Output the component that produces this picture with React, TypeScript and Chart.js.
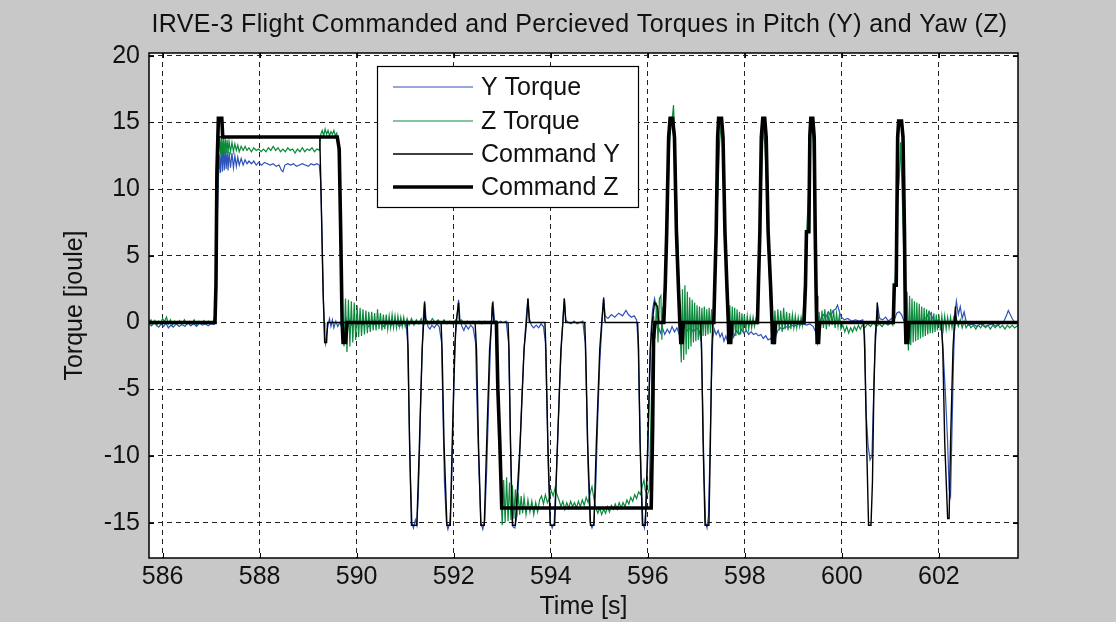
import React, { useEffect, useRef } from "react";
import { Chart, registerables } from "chart.js";

Chart.register(...registerables);

const FONT = '"Liberation Sans", Arial, Helvetica, sans-serif';
const TITLE = "IRVE-3 Flight Commanded and Percieved Torques in Pitch (Y) and Yaw (Z)";
const X_LABEL = "Time [s]";
const Y_LABEL = "Torque [joule]";
const xTickValues = [586, 588, 590, 592, 594, 596, 598, 600, 602];
const yTickValues = [-15, -10, -5, 0, 5, 10, 15, 20];
const xRange = [585.72, 603.63];
const yRange = [-17.65, 20.2];
const seriesNames = ["Y Torque", "Z Torque", "Command Y", "Command Z"];

// Y torque (perceived, pitch)
const yTorque: [number, number][] = [
  [585.72,-0.1],[585.77,-0.25],[585.82,0.05],[585.87,-0.2],[585.92,-0.35],[585.97,-0.1],[586.02,-0.3],[586.07,-0.05],[586.12,-0.4],[586.17,-0.2],[586.22,-0.35],[586.28,-0.1],[586.34,-0.3],[586.40,-0.15],[586.46,-0.3],[586.52,0.0],[586.58,-0.25],[586.64,-0.1],[586.70,-0.3],[586.76,-0.05],[586.82,-0.2],[586.88,-0.1],[586.94,-0.25],[587.00,-0.1],[587.06,-0.15],
  [587.09,0.3],[587.11,3.5],[587.13,8.2],[587.15,10.8],[587.17,12.6],[587.19,11.2],[587.21,13.3],[587.23,11.3],[587.25,13.2],[587.27,11.4],[587.29,13.0],[587.31,11.5],[587.33,12.9],[587.35,11.4],[587.37,12.8],[587.40,11.6],[587.43,12.7],[587.46,11.6],[587.49,12.5],[587.52,11.7],[587.55,12.4],[587.58,11.8],[587.62,12.3],[587.66,11.8],[587.70,12.2],[587.74,11.9],[587.78,12.1],[587.83,11.9],[587.88,12.1],[587.93,11.8],[587.98,12.0],[588.04,11.8],[588.10,12.0],[588.16,11.9],[588.22,11.8],[588.28,11.9],[588.34,11.7],[588.40,11.8],[588.45,11.4],[588.48,11.3],[588.52,11.8],[588.58,11.9],[588.64,11.8],[588.70,11.9],[588.76,11.7],[588.82,11.8],[588.88,11.9],[588.94,11.8],[589.00,11.7],[589.06,11.9],[589.12,11.8],[589.18,11.9],[589.23,11.8],
  [589.26,10.5],[589.28,7.5],[589.30,4],[589.32,1],[589.34,-1.2],[589.36,-1.6],[589.38,-0.9],[589.41,-0.2],[589.44,0.3],[589.47,-0.3],[589.50,0.2],[589.53,-0.4],[589.57,0.1],[589.61,-0.3],[589.65,0.0],[589.69,-0.3],[589.72,-1.2],[589.75,-0.2],[589.78,0.3],[589.82,-0.3],[589.86,0.2],[589.90,-0.2],[589.95,0.1],[590.00,-0.2],[590.06,0.1],[590.12,-0.2],[590.18,0.0],[590.25,-0.3],[590.32,0.0],[590.40,-0.2],[590.48,0.1],[590.56,-0.3],[590.64,0.0],[590.72,-0.2],[590.80,0.1],[590.88,-0.3],[590.96,0.0],[591.02,-0.1],
  [591.05,-1.5],[591.08,-7],[591.11,-12],[591.14,-15.0],[591.17,-15.4],[591.21,-14.8],[591.24,-15.2],[591.27,-13],[591.30,-9],[591.33,-4.5],[591.36,-1],[591.38,0.8],[591.40,1.6],[591.43,0.3],[591.47,-0.3],[591.51,-0.5],[591.55,-0.2],[591.60,-0.4],[591.65,-0.1],[591.70,-0.3],
  [591.75,-1.5],[591.78,-7],[591.81,-12],[591.85,-15.0],[591.88,-15.5],[591.92,-15.0],[591.95,-13],[591.98,-8.5],[592.01,-4],[592.04,-0.8],[592.07,0.5],[592.10,1.7],[592.13,0.2],[592.17,-0.3],[592.21,-0.6],[592.25,-0.2],[592.30,-0.5],[592.35,-0.2],[592.40,-0.4],
  [592.45,-1.5],[592.48,-6],[592.52,-11],[592.56,-15.0],[592.60,-15.5],[592.64,-14.8],[592.68,-11],[592.72,-6],[592.76,-1.5],[592.79,1.0],[592.81,1.6],[592.84,0.2],[592.90,-0.1],[592.96,0.1],[593.02,0.0],[593.08,0.1],
  [593.13,-1.5],[593.16,-7],[593.19,-12.5],[593.22,-15.3],[593.26,-15.4],[593.30,-14.5],[593.35,-11],[593.40,-6],[593.45,-2],[593.49,0.2],[593.53,1.8],[593.56,0.3],[593.60,-0.2],[593.65,-0.4],[593.70,-0.2],[593.75,-0.4],[593.80,-0.1],[593.85,-0.3],
  [593.89,-1.5],[593.92,-6],[593.95,-11],[593.99,-15.0],[594.03,-15.4],[594.07,-15.0],[594.11,-12],[594.15,-8],[594.19,-4],[594.23,-1],[594.26,0.8],[594.28,1.8],[594.31,0.2],[594.36,0.0],[594.42,-0.1],[594.48,0.1],[594.54,-0.1],[594.60,0.0],[594.66,0.1],
  [594.71,-1.5],[594.74,-6],[594.77,-11],[594.81,-15.0],[594.85,-15.4],[594.89,-15.0],[594.93,-12],[594.97,-7],[595.01,-3],[595.05,-0.5],[595.07,0.8],[595.09,1.9],[595.12,0.5],[595.18,0.3],[595.25,0.6],[595.32,0.4],[595.40,0.7],[595.48,0.5],[595.55,0.9],[595.60,0.6],[595.66,0.4],[595.72,0.5],[595.77,0.2],
  [595.80,-1.5],[595.83,-6.5],[595.86,-11.5],[595.90,-15.0],[595.93,-15.4],[595.96,-14],[596.00,-10],[596.04,-4],[596.07,-0.5],[596.10,1.0],[596.14,1.8],[596.18,1.0],[596.22,-0.3],[596.26,-0.8],[596.30,-0.4],[596.35,-0.9],[596.40,-0.5],[596.45,-0.8],[596.50,-0.3],[596.55,-0.7],[596.60,-0.4],[596.65,-0.9],[596.70,-0.5],[596.76,-0.3],[596.82,-0.6],[596.88,-0.4],[596.94,-0.7],[597.00,-0.4],[597.06,-0.6],
  [597.10,-1.5],[597.13,-6],[597.16,-11.5],[597.19,-15.0],[597.22,-15.4],[597.25,-14.5],[597.28,-10],[597.31,-4.5],[597.34,-1.2],[597.37,-0.5],[597.41,-0.9],[597.45,-0.6],[597.49,-1.1],[597.53,-0.8],[597.57,-1.4],[597.61,-1.0],[597.65,-1.5],[597.69,-1.2],[597.73,-0.8],[597.78,-1.0],[597.83,-0.6],[597.88,-0.9],[597.93,-0.5],[597.98,-0.8],[598.03,-0.6],[598.08,-0.9],[598.13,-0.7],[598.18,-0.9],[598.23,-0.8],[598.28,-1.0],[598.33,-0.9],[598.38,-1.2],[598.43,-1.0],[598.48,-1.3],[598.53,-1.2],[598.57,-1.5],[598.60,-1.6],[598.64,-1.0],[598.68,-0.6],[598.73,-0.4],[598.78,-0.5],[598.84,-0.3],[598.90,-0.4],[598.96,-0.2],[599.02,-0.3],[599.08,-0.1],[599.14,-0.2],[599.20,-0.1],[599.27,-0.2],[599.34,-0.1],[599.41,-0.3],[599.47,-0.8],[599.50,-1.5],[599.53,-0.4],[599.57,0.3],[599.62,0.6],[599.67,0.4],[599.72,0.8],[599.77,0.5],[599.82,0.9],[599.87,1.0],[599.91,1.3],[599.95,0.8],[599.99,0.4],[600.05,0.2],[600.12,0.3],[600.20,0.1],[600.28,0.2],[600.36,0.1],[600.43,0.2],
  [600.47,-1],[600.50,-6.8],[600.54,-9.2],[600.58,-10.3],[600.62,-10.0],[600.65,-6],[600.68,-2.2],[600.71,-0.5],[600.74,1.2],[600.78,0.3],[600.84,0.2],[600.90,0.4],[600.96,0.1],[601.02,0.3],[601.08,0.2],[601.13,0.7],[601.18,0.8],[601.23,0.6],[601.28,0.1],[601.34,-0.1],[601.40,0.1],[601.47,0.0],[601.54,0.2],[601.61,0.0],[601.68,0.2],[601.75,0.4],[601.80,0.8],[601.85,0.5],[601.90,0.1],[601.96,0.2],[602.02,0.0],
  [602.06,-0.5],[602.10,-3],[602.14,-5.8],[602.18,-9],[602.21,-12.5],[602.24,-13.0],[602.27,-8],[602.30,-3],[602.33,0.5],[602.36,1.6],[602.40,0.6],[602.44,1.2],[602.48,0.3],[602.52,0.8],[602.56,0.1],[602.62,-0.2],[602.70,-0.1],[602.78,-0.3],[602.86,-0.1],[602.94,-0.3],[603.02,-0.2],[603.10,-0.1],[603.18,-0.3],[603.26,-0.1],[603.34,0.1],[603.39,0.5],[603.43,0.9],[603.47,0.6],[603.51,0.3],[603.56,0.0],[603.63,-0.1],
];

// Z torque (perceived, yaw)
const zTorque: [number, number][] = [
  [585.72,0.05],[585.76,0.2],[585.80,-0.15],[585.84,0.15],[585.88,-0.2],[585.92,0.1],[585.96,-0.1],[586.00,0.3],[586.04,0.05],[586.08,0.4],[586.12,-0.1],[586.16,0.2],[586.20,-0.2],[586.25,0.1],[586.30,-0.15],[586.35,0.15],[586.40,-0.1],[586.45,0.2],[586.50,-0.15],[586.55,0.1],[586.60,-0.1],[586.65,0.2],[586.70,-0.2],[586.75,0.1],[586.80,-0.1],[586.85,0.15],[586.90,-0.15],[586.95,0.1],[587.00,-0.05],[587.05,0.1],
  [587.09,0.8],[587.11,5],[587.13,9.5],[587.15,12.5],[587.17,13.9],[587.19,12.6],[587.21,14.0],[587.23,12.5],[587.25,13.9],[587.27,12.6],[587.29,13.8],[587.31,12.7],[587.33,13.7],[587.35,12.7],[587.37,13.6],[587.40,12.8],[587.43,13.5],[587.46,12.8],[587.49,13.4],[587.52,12.9],[587.55,13.3],[587.58,12.8],[587.62,13.2],[587.66,12.9],[587.70,13.2],[587.74,12.9],[587.78,13.1],[587.83,12.8],[587.88,13.1],[587.93,12.9],[587.98,13.0],[588.03,12.8],[588.08,13.0],[588.13,12.8],[588.18,13.1],[588.23,12.9],[588.28,13.2],[588.33,12.9],[588.38,13.1],[588.43,12.8],[588.48,13.0],[588.53,12.8],[588.58,13.1],[588.63,12.9],[588.68,13.0],[588.73,12.7],[588.78,13.0],[588.83,12.8],[588.88,13.1],[588.93,12.8],[588.98,13.0],[589.03,12.9],[589.08,13.1],[589.13,12.8],[589.18,13.0],[589.23,12.9],
  [589.26,14.1],[589.29,14.4],[589.32,14.0],[589.35,14.5],[589.38,14.1],[589.41,14.4],[589.44,14.0],[589.47,14.3],[589.50,14.1],[589.53,14.4],[589.56,14.0],[589.59,14.2],[589.62,13.4],[589.65,10],[589.67,6],[589.69,2],[589.71,-0.5],
  [589.74,-1.8],[589.77,1.8],[589.80,-2.2],[589.83,1.7],[589.86,-1.8],[589.89,1.6],[589.92,-1.5],[589.95,1.5],[589.98,-1.3],[590.01,1.3],[590.04,-1.1],[590.07,1.1],[590.10,-1.0],[590.13,1.0],[590.16,-0.9],[590.19,0.9],[590.22,-0.8],[590.25,0.8],[590.28,-0.7],[590.31,0.8],[590.34,-0.6],[590.37,0.7],[590.40,-0.6],[590.43,1.0],[590.46,-0.5],[590.49,0.7],[590.52,-0.6],[590.55,0.6],[590.58,-0.5],[590.61,0.6],[590.64,-0.5],[590.67,0.5],[590.70,-0.4],[590.73,0.6],[590.76,-0.4],[590.79,0.5],[590.82,-0.4],[590.85,0.5],[590.88,-0.3],[590.91,0.4],[590.94,-0.3],[590.97,0.4],[591.00,-0.3],[591.04,0.3],[591.08,-0.2],
  [591.13,0.3],[591.18,-0.2],[591.23,0.2],[591.28,-0.1],[591.33,0.3],[591.38,-0.2],[591.44,0.2],[591.50,-0.1],[591.56,0.3],[591.62,0.0],[591.68,0.2],[591.74,-0.1],[591.80,0.2],[591.86,-0.1],[591.92,0.1],[591.98,-0.1],[592.04,0.2],[592.10,0.0],[592.16,0.2],[592.22,-0.1],[592.28,0.1],[592.34,-0.1],[592.40,0.1],[592.46,0.0],[592.52,0.1],[592.58,-0.1],[592.64,0.1],[592.70,0.0],[592.76,0.1],[592.82,0.0],[592.88,0.1],
  [592.91,-3],[592.94,-8],[592.97,-12.5],
  [593.00,-15.2],[593.03,-11.8],[593.06,-15.0],[593.09,-11.6],[593.12,-14.9],[593.15,-12.0],[593.18,-14.8],[593.21,-12.2],[593.24,-14.7],[593.27,-12.5],[593.30,-14.5],[593.33,-12.8],[593.36,-14.4],[593.39,-13.0],[593.42,-14.3],[593.45,-13.1],[593.49,-14.4],[593.53,-13.3],[593.57,-14.2],[593.61,-13.4],[593.65,-14.4],[593.69,-13.5],[593.73,-14.2],[593.77,-13.3],[593.81,-13.0],[593.85,-13.6],[593.89,-12.9],[593.93,-13.5],[593.97,-13.2],[594.01,-12.6],[594.05,-13.0],[594.09,-12.4],[594.13,-12.9],[594.17,-13.3],[594.21,-13.8],[594.25,-13.4],[594.29,-14.0],[594.33,-13.5],[594.37,-13.9],[594.41,-13.4],[594.45,-13.8],[594.49,-13.5],[594.53,-13.9],[594.57,-13.4],[594.61,-13.8],[594.65,-13.3],[594.69,-13.7],[594.73,-13.1],[594.77,-13.5],[594.81,-12.8],[594.85,-12.3],[594.89,-13.2],[594.93,-13.9],[594.97,-14.3],[595.01,-13.9],[595.05,-14.4],[595.09,-14.0],[595.13,-14.3],[595.17,-13.8],[595.21,-14.2],[595.25,-13.7],[595.29,-14.0],[595.33,-13.6],[595.37,-14.0],[595.41,-13.5],[595.45,-13.9],[595.49,-13.5],[595.53,-13.8],[595.57,-13.3],[595.61,-13.6],[595.65,-13.1],[595.69,-13.4],[595.73,-12.9],[595.77,-13.2],[595.81,-12.7],[595.85,-12.9],[595.89,-12.2],[595.92,-11.8],[595.95,-12.6],[595.99,-12.9],[596.03,-12.5],
  [596.06,-8],[596.09,-3],[596.12,0.5],
  [596.15,-1.2],[596.18,1.5],[596.21,-1.5],[596.24,1.8],[596.27,2.0],[596.29,-1.3],[596.31,1.2],[596.33,0.0],
  [596.36,2.0],[596.39,5.5],[596.42,10],[596.45,13.5],[596.48,14.8],[596.51,15.5],[596.53,16.3],[596.55,14.5],[596.58,11],[596.61,7],[596.64,3],[596.67,-1],
  [596.69,-3.0],[596.715,2.5],[596.74,-2.8],[596.765,2.8],[596.79,-2.4],[596.815,2.3],[596.84,-2.0],[596.865,1.9],[596.89,-1.8],[596.915,1.7],[596.94,-1.5],[596.965,1.5],[596.99,-1.4],[597.015,1.3],[597.04,-1.3],[597.065,1.2],[597.09,-1.1],[597.115,1.1],[597.14,-1.0],[597.165,1.2],[597.19,-1.0],[597.215,1.0],[597.24,-0.9],[597.265,1.1],[597.29,-0.8],[597.315,1.0],[597.34,-0.8],[597.36,0.5],
  [597.39,3],[597.42,7.5],[597.45,10.3],[597.48,13.5],[597.51,14.8],[597.54,13.5],[597.57,9],[597.60,5],[597.63,1.5],[597.66,-1.2],
  [597.69,1.3],[597.715,-1.3],[597.74,1.2],[597.765,-1.2],[597.79,1.1],[597.815,-1.0],[597.84,1.0],[597.865,-0.9],[597.89,0.8],[597.915,-0.9],[597.94,0.7],[597.965,-0.7],[597.99,0.6],[598.02,-0.6],[598.05,0.5],[598.08,-0.5],[598.11,0.4],[598.14,-0.4],[598.17,0.4],[598.20,-0.3],[598.23,0.3],[598.26,0.0],
  [598.29,3],[598.32,8],[598.35,11.5],[598.38,14.5],[598.41,13.5],[598.44,11],[598.47,7],[598.50,4],[598.53,1.5],[598.56,-0.5],
  [598.59,-1.6],[598.62,0.9],[598.65,-0.8],[598.68,1.0],[598.71,-0.6],[598.74,0.9],[598.77,-0.7],[598.80,1.1],[598.83,-0.5],[598.86,0.8],[598.89,-0.6],[598.92,0.7],[598.95,-0.5],[598.98,0.6],[599.01,-0.4],[599.04,0.5],[599.07,-0.4],[599.10,0.4],[599.13,-0.3],[599.16,0.4],[599.19,-0.2],
  [599.23,2.5],[599.27,6.5],[599.31,9.5],[599.35,14.0],[599.38,14.8],[599.41,13.5],[599.44,8],[599.47,2.5],[599.50,-1.4],
  [599.53,0.8],[599.56,-0.5],[599.59,0.9],[599.62,-0.4],[599.65,1.0],[599.68,-0.5],[599.71,0.8],[599.74,-0.3],[599.77,1.0],[599.80,-0.2],[599.83,0.9],[599.86,-0.4],[599.89,0.7],[599.92,-0.3],[599.95,0.6],[599.98,-0.5],[600.02,-0.2],[600.06,-0.7],[600.10,-0.3],[600.14,-0.8],[600.18,-0.4],[600.22,-0.7],[600.26,-0.3],[600.30,-0.6],[600.34,-0.2],[600.38,-0.5],[600.42,-0.2],[600.47,-0.4],[600.53,-0.1],[600.59,-0.3],[600.65,0.0],[600.71,-0.3],[600.77,-0.1],[600.83,-0.3],[600.89,0.0],[600.95,-0.2],[601.01,0.0],[601.05,-0.2],
  [601.09,2.5],[601.12,5],[601.15,9.5],[601.18,10.5],[601.21,13.5],[601.24,10],[601.27,6],[601.30,1],
  [601.32,-1.5],[601.345,2.3],[601.37,-2.1],[601.395,2.0],[601.42,-1.7],[601.445,1.8],[601.47,-1.5],[601.495,1.6],[601.52,-1.4],[601.545,1.5],[601.57,-1.3],[601.595,1.4],[601.62,-1.2],[601.645,1.2],[601.67,-1.1],[601.695,1.1],[601.72,-1.0],[601.745,1.0],[601.77,-0.9],[601.795,0.9],[601.82,-0.8],[601.845,0.8],[601.87,-0.8],[601.895,0.7],[601.92,-0.7],[601.945,0.6],[601.97,-0.6],[602.00,0.6],[602.03,-0.6],[602.06,0.5],[602.09,-0.5],[602.12,0.5],[602.15,-0.5],[602.18,0.4],[602.21,-0.4],[602.24,0.4],[602.27,-0.4],[602.30,0.3],[602.33,-0.4],[602.36,0.3],[602.40,-0.3],[602.44,0.2],[602.48,-0.4],[602.52,0.1],[602.56,-0.4],[602.61,-0.1],[602.66,-0.4],[602.71,-0.2],[602.76,-0.5],[602.81,-0.2],[602.86,-0.4],[602.91,-0.1],[602.96,-0.4],[603.01,-0.2],[603.06,-0.5],[603.11,-0.2],[603.16,-0.4],[603.21,-0.1],[603.26,-0.4],[603.31,-0.2],[603.36,-0.5],[603.41,-0.2],[603.46,-0.4],[603.51,-0.2],[603.56,-0.4],[603.63,-0.2],
];

// Commanded pitch torque
const commandY: [number, number][] = [
  [585.72,0],[587.08,0],[587.10,2.5],[587.13,11.3],[587.16,13.9],[589.24,13.9],[589.27,9],[589.31,2],[589.33,0],[589.34,-1.5],[589.38,-1.5],[589.40,0],
  [591.04,0],[591.06,-2],[591.09,-9],[591.13,-15.2],[591.24,-15.2],[591.29,-9.5],[591.35,-2],[591.38,0],[591.40,1.5],[591.42,0],
  [591.74,0],[591.76,-2],[591.80,-9],[591.86,-15.2],[591.93,-15.2],[591.97,-9],[592.02,-2],[592.05,0],[592.10,1.5],[592.12,0],
  [592.44,0],[592.47,-2],[592.51,-9],[592.56,-15.2],[592.63,-15.2],[592.68,-9],[592.74,-2],[592.78,0],[592.80,1.5],[592.83,0],
  [593.12,0],[593.14,-2],[593.17,-9],[593.21,-15.2],[593.27,-15.2],[593.37,-9],[593.45,-2],[593.50,0],[593.53,1.8],[593.56,0],
  [593.88,0],[593.90,-2],[593.94,-9],[593.99,-15.2],[594.08,-15.2],[594.14,-9],[594.21,-2],[594.25,0],[594.28,1.8],[594.31,0],
  [594.70,0],[594.72,-2],[594.76,-9],[594.82,-15.2],[594.89,-15.2],[594.94,-9],[595.01,-2],[595.05,0],[595.09,1.8],[595.12,0],
  [595.79,0],[595.81,-2],[595.84,-9],[595.89,-15.2],[595.95,-15.2],[596.00,-9],[596.05,-2],[596.09,0],[596.14,1.5],[596.20,1.2],[596.23,0],
  [597.09,0],[597.11,-2],[597.14,-9],[597.18,-15.2],[597.26,-15.2],[597.29,-9],[597.32,-2],[597.34,0],
  [600.45,0],[600.47,-2],[600.51,-9],[600.55,-15.2],[600.60,-15.2],[600.63,-12],[600.66,-5],[600.69,-1],[600.71,0],[600.73,1.5],[600.75,0],
  [602.05,0],[602.08,-2],[602.12,-9],[602.18,-14.7],[602.21,-14.7],[602.24,-9],[602.29,-2],[602.32,0],[602.34,1.2],[602.36,0],[603.63,0],
];

// Commanded yaw torque
const commandZ: [number, number][] = [
  [585.72,0],[587.08,0],[587.10,2.8],[587.12,11.3],[587.15,15.3],[587.22,15.3],[587.24,13.9],[589.60,13.9],[589.64,13.0],[589.67,7.0],[589.70,0],[589.72,-1.5],[589.77,-1.5],[589.80,0],
  [592.88,0],[592.91,-5],[592.95,-9],[592.99,-13.9],[596.07,-13.9],[596.10,-8],[596.12,-1],[596.15,0],
  [596.33,0],[596.36,2.8],[596.39,6.8],[596.43,13.9],[596.46,15.3],[596.51,15.3],[596.55,13.9],[596.59,6.8],[596.63,2.8],[596.66,0],[596.68,-1.5],[596.71,-1.5],[596.73,0],
  [597.36,0],[597.38,2.8],[597.41,6.8],[597.44,13.9],[597.46,15.3],[597.52,15.3],[597.55,13.9],[597.59,6.8],[597.63,2.8],[597.66,0],[597.67,-1.5],[597.71,-1.5],[597.73,0],
  [598.26,0],[598.28,2.8],[598.31,6.8],[598.34,13.9],[598.37,15.3],[598.41,15.3],[598.44,13.9],[598.48,6.8],[598.53,2.8],[598.56,0],[598.57,-1.5],[598.61,-1.5],[598.63,0],
  [599.22,0],[599.25,2.8],[599.27,6.8],[599.32,6.8],[599.34,14],[599.36,15.3],[599.40,15.3],[599.43,13.9],[599.45,6.8],[599.47,2],[599.48,0],[599.49,-1.5],[599.52,-1.5],[599.54,0],
  [601.06,0],[601.08,2.8],[601.12,2.8],[601.15,13.9],[601.17,15.1],[601.23,15.1],[601.26,13.9],[601.29,6.8],[601.31,0],[601.32,-1.5],[601.36,-1.5],[601.38,0],[603.63,0],
];

const seriesData = [yTorque, zTorque, commandY, commandZ];
const seriesColors = ["#2f52b8", "#0c8a3c", "#000000", "#000000"];
const seriesWidths = [1.2, 1.2, 1.4, 3.6];
const seriesOrder = [4, 3, 2, 1];

const LEGEND_BOX = { left: 377.5, top: 66.5, right: 638.5, bottom: 207.5 };
const LEGEND_ROWS = [87, 121, 154, 187];

export default function App() {
  const canvasRef = useRef<HTMLCanvasElement | null>(null);

  useEffect(() => {
    const canvas = canvasRef.current;
    if (!canvas) return;

    const bgPlugin = {
      id: "matlabBackground",
      beforeDraw(chart: any) {
        const { ctx, chartArea } = chart;
        ctx.save();
        ctx.fillStyle = "#c8c8c8";
        ctx.fillRect(0, 0, chart.width, chart.height);
        ctx.fillStyle = "#ffffff";
        ctx.fillRect(chartArea.left, chartArea.top, chartArea.right - chartArea.left, chartArea.bottom - chartArea.top);
        ctx.restore();
      },
    };

    const framePlugin = {
      id: "matlabFrame",
      afterDatasetsDraw(chart: any) {
        const { ctx, chartArea, scales } = chart;
        const { left, right, top, bottom } = chartArea;
        ctx.save();
        ctx.strokeStyle = "#000";
        ctx.lineWidth = 1;
        ctx.beginPath();
        for (const v of xTickValues) {
          const px = Math.round(scales.x.getPixelForValue(v)) + 0.5;
          ctx.moveTo(px, bottom);
          ctx.lineTo(px, bottom - 5);
          ctx.moveTo(px, top);
          ctx.lineTo(px, top + 5);
        }
        for (const v of yTickValues) {
          const py = Math.round(scales.y.getPixelForValue(v)) + 0.5;
          ctx.moveTo(left, py);
          ctx.lineTo(left + 5, py);
          ctx.moveTo(right, py);
          ctx.lineTo(right - 5, py);
        }
        ctx.stroke();
        ctx.lineWidth = 1.5;
        ctx.strokeRect(left, top, right - left, bottom - top);
        ctx.restore();
      },
    };

    const overlayPlugin = {
      id: "matlabOverlay",
      afterDraw(chart: any) {
        const { ctx, chartArea } = chart;
        ctx.save();
        ctx.fillStyle = "#111";
        ctx.font = `25px ${FONT}`;
        ctx.textAlign = "center";
        ctx.textBaseline = "middle";
        (ctx as any).letterSpacing = "0.35px";
        ctx.fillText(TITLE, (chartArea.left + chartArea.right) / 2 - 4, 25);
        (ctx as any).letterSpacing = "0px";

        const b = LEGEND_BOX;
        ctx.fillStyle = "#fff";
        ctx.fillRect(b.left, b.top, b.right - b.left, b.bottom - b.top);
        ctx.strokeStyle = "#000";
        ctx.lineWidth = 1.2;
        ctx.strokeRect(b.left, b.top, b.right - b.left, b.bottom - b.top);
        ctx.textAlign = "left";
        seriesNames.forEach((name, i) => {
          const y = LEGEND_ROWS[i];
          ctx.beginPath();
          ctx.strokeStyle = seriesColors[i];
          ctx.lineWidth = seriesWidths[i];
          ctx.moveTo(393, y);
          ctx.lineTo(473, y);
          ctx.stroke();
          ctx.fillStyle = "#111";
          ctx.fillText(name, 481, y + 1);
        });
        ctx.restore();
      },
    };

    const chart = new Chart(canvas, {
      type: "line",
      data: {
        datasets: seriesNames.map((name, i) => ({
          label: name,
          data: seriesData[i].map(([x, y]) => ({ x, y })),
          borderColor: seriesColors[i],
          backgroundColor: seriesColors[i],
          borderWidth: seriesWidths[i],
          pointRadius: 0,
          tension: 0,
          fill: false,
          order: seriesOrder[i],
          borderJoinStyle: "miter" as const,
        })),
      },
      options: {
        animation: false,
        responsive: false,
        maintainAspectRatio: false,
        layout: { padding: { left: 0, right: 98, top: 53, bottom: 0 } },
        plugins: {
          legend: { display: false },
          title: { display: false },
          tooltip: { enabled: false },
        },
        scales: {
          x: {
            type: "linear",
            min: xRange[0],
            max: xRange[1],
            afterFit: (s: any) => { s.height = 64; },
            afterBuildTicks: (s: any) => { s.ticks = xTickValues.map((v) => ({ value: v })); },
            ticks: {
              autoSkip: false,
              maxRotation: 0,
              padding: 4,
              color: "#111",
              font: { family: FONT, size: 25 },
              callback: (v: any) => String(v),
            },
            grid: { color: "#222", lineWidth: 1, drawTicks: false },
            border: { display: false, dash: [5, 4] },
            title: {
              display: true,
              text: X_LABEL,
              color: "#111",
              font: { family: FONT, size: 25 },
              padding: 0,
            },
          },
          y: {
            type: "linear",
            min: yRange[0],
            max: yRange[1],
            afterFit: (s: any) => { s.width = 149; },
            afterBuildTicks: (s: any) => { s.ticks = yTickValues.map((v) => ({ value: v })); },
            ticks: {
              autoSkip: false,
              padding: 9,
              color: "#111",
              font: { family: FONT, size: 25 },
              callback: (v: any) => String(v),
            },
            grid: { color: "#222", lineWidth: 1, drawTicks: false },
            border: { display: false, dash: [5, 4] },
            title: {
              display: true,
              text: Y_LABEL,
              color: "#111",
              font: { family: FONT, size: 25 },
              padding: { top: 60, bottom: 0 },
            },
          },
        },
      },
      plugins: [bgPlugin, framePlugin, overlayPlugin],
    });

    return () => chart.destroy();
  }, []);

  return (
    <div style={{ position: "absolute", left: 0, top: 0, width: 1116, height: 622, background: "#c8c8c8" }}>
      <canvas ref={canvasRef} width={1116} height={622} style={{ display: "block", width: 1116, height: 622 }} />
    </div>
  );
}
